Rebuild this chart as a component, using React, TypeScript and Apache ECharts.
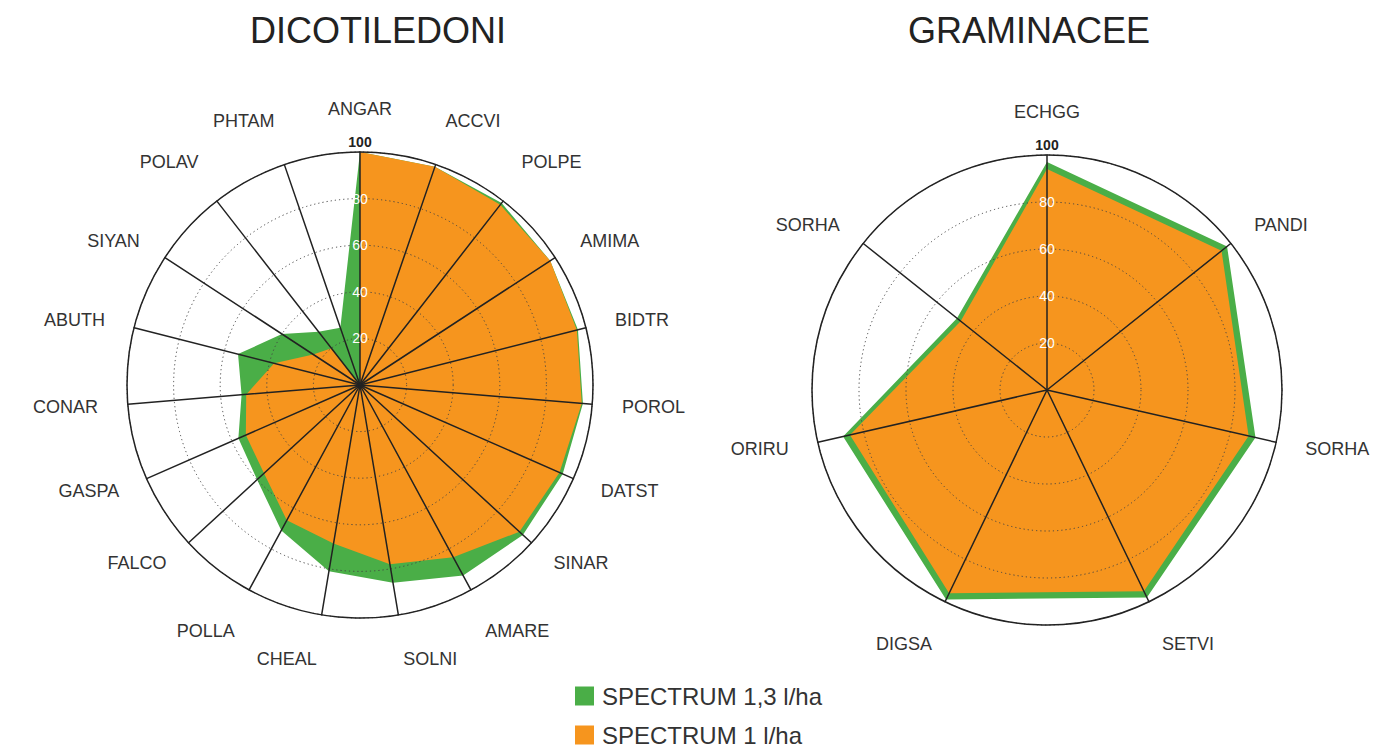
import React, { useEffect, useRef } from 'react';
import * as echarts from 'echarts';

const titles = ['DICOTILEDONI', 'GRAMINACEE'];
const seriesNames = ['SPECTRUM 1,3 l/ha', 'SPECTRUM 1 l/ha'];
const seriesColors = ['#4aae47', '#f6951e'];

const dicotCategories = ['ANGAR', 'ACCVI', 'POLPE', 'AMIMA', 'BIDTR', 'POROL', 'DATST', 'SINAR', 'AMARE', 'SOLNI', 'CHEAL', 'POLLA', 'FALCO', 'GASPA', 'CONAR', 'ABUTH', 'SIYAN', 'POLAV', 'PHTAM'];
const dicotHigh = [100, 99, 99, 97.5, 96.5, 96, 95, 95, 93, 86, 81, 71, 60, 57, 51, 54, 40, 29, 26];
const dicotLow = [100, 99, 98, 97.5, 96, 95.5, 93.5, 93, 84, 78, 69, 66, 56, 53.5, 49, 38, 24, 20, 0];

const gramCategories = ['ECHGG', 'PANDI', 'SORHA', 'SETVI', 'DIGSA', 'ORIRU', 'SORHA'];
const gramHigh = [97, 98, 91, 98, 99, 89, 49];
const gramLow = [94, 95, 88, 95, 96, 86, 47];

const axisMax = 100;
const FONT = "'Liberation Sans', Arial, Helvetica, sans-serif";

// ECharts lays radar indicators out counter-clockwise; the reference runs clockwise.
function clockwise<T>(arr: T[]): T[] {
  return [arr[0], ...arr.slice(1).reverse()];
}

function buildIndicators(cats: string[], withLabels: boolean) {
  const ordered = clockwise(cats);
  const n = ordered.length;
  return ordered.map((name, i) => {
    const ang = (i * 360) / n;
    const fromTop = Math.min(ang, 360 - ang);
    let vpos = 'n';
    if (fromTop < 0.01) vpos = 'top';
    else if (fromTop < 45) vpos = 'up';
    else if (fromTop > 135 && fromTop < 179.99) vpos = 'down';
    const ind: any = { name, max: axisMax, min: 0, vpos };
    if (withLabels && i === 0) ind.axisLabel = { show: true };
    return ind;
  });
}

const nameRich = {
  n: { fontSize: 18, color: '#333', fontFamily: FONT },
  top: { fontSize: 18, color: '#333', fontFamily: FONT, padding: [0, 0, 4, 0] },
  up: { fontSize: 18, color: '#333', fontFamily: FONT, padding: [0, 0, 30, 0] },
  down: { fontSize: 18, color: '#333', fontFamily: FONT, padding: [30, 0, 0, 0] },
};

function mainRadar(cats: string[], center: number[], radius: number) {
  return {
    indicator: buildIndicators(cats, true),
    center,
    radius,
    startAngle: 90,
    shape: 'circle',
    splitNumber: 5,
    z: 5,
    nameGap: 30,
    axisName: {
      formatter: (name: string, ind: any) => `{${ind.vpos}|${name}}`,
      rich: nameRich,
    },
    axisLine: { show: true, lineStyle: { color: '#222', width: 1.5 } },
    splitLine: { show: true, lineStyle: { color: '#444', width: 1, type: [1.2, 3] } },
    splitArea: { show: false },
    axisTick: { show: false },
    axisLabel: {
      show: false,
      margin: 0,
      align: 'center',
      verticalAlign: 'middle',
      formatter: (v: number) => (v === 100 ? '{b|100}' : v === 0 ? '' : `{w|${v}}`),
      rich: {
        b: { fontWeight: 'bold', color: '#222', fontSize: 14, fontFamily: FONT, padding: [0, 0, 20, 0] },
        w: { color: '#ffffff', fontSize: 14, fontFamily: FONT },
      },
    },
  };
}

function outerRadar(cats: string[], center: number[], radius: number) {
  return {
    indicator: cats.map((name) => ({ name, max: axisMax, min: 0 })),
    center,
    radius,
    startAngle: 90,
    shape: 'circle',
    splitNumber: 1,
    z: 6,
    axisName: { show: false },
    axisLine: { show: false },
    axisTick: { show: false },
    axisLabel: { show: false },
    splitArea: { show: false },
    splitLine: { show: true, lineStyle: { color: '#222', width: 1.5, type: 'solid' } },
  };
}

function radarSeries(radarIndex: number, high: number[], low: number[]) {
  return {
    type: 'radar',
    radarIndex,
    symbol: 'none',
    z: 2,
    data: [
      {
        name: seriesNames[0],
        value: clockwise(high),
        itemStyle: { color: seriesColors[0] },
        lineStyle: { width: 0, color: seriesColors[0] },
        areaStyle: { color: seriesColors[0], opacity: 1 },
      },
      {
        name: seriesNames[1],
        value: clockwise(low),
        itemStyle: { color: seriesColors[1] },
        lineStyle: { width: 0, color: seriesColors[1] },
        areaStyle: { color: seriesColors[1], opacity: 1 },
      },
    ],
  };
}

export default function App() {
  const ref = useRef<HTMLDivElement>(null);
  useEffect(() => {
    if (!ref.current) return;
    const chart = echarts.init(ref.current, undefined, { renderer: 'svg' });
    const c1 = [360, 385];
    const c2 = [1047, 390];
    chart.setOption({
      animation: false,
      backgroundColor: '#ffffff',
      title: [
        {
          text: titles[0],
          left: 378,
          top: 12,
          padding: 0,
          textAlign: 'center',
          textStyle: { fontSize: 36, fontWeight: 'normal', color: '#222', fontFamily: FONT },
        },
        {
          text: titles[1],
          left: 1029,
          top: 12,
          padding: 0,
          textAlign: 'center',
          textStyle: { fontSize: 36, fontWeight: 'normal', color: '#222', fontFamily: FONT },
        },
      ],
      legend: {
        orient: 'vertical',
        left: 575,
        top: 684,
        height: 120,
        padding: 0,
        itemWidth: 19,
        itemHeight: 19,
        itemGap: 15,
        icon: 'rect',
        selectedMode: false,
        data: seriesNames,
        textStyle: { fontSize: 24, color: '#333', fontFamily: FONT, padding: [0, 0, 0, 3] },
      },
      radar: [
        mainRadar(dicotCategories, c1, 233),
        mainRadar(gramCategories, c2, 235),
        outerRadar(dicotCategories, c1, 233),
        outerRadar(gramCategories, c2, 235),
      ],
      series: [radarSeries(0, dicotHigh, dicotLow), radarSeries(1, gramHigh, gramLow)],
    });
    return () => chart.dispose();
  }, []);
  return <div ref={ref} style={{ position: 'fixed', left: 0, top: 0, width: 1396, height: 749 }} />;
}
